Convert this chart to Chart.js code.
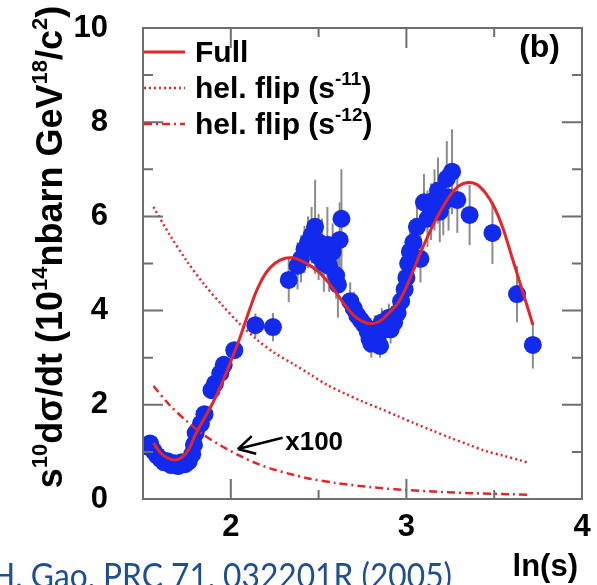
<!DOCTYPE html>
<html>
<head>
<meta charset="utf-8">
<script src="https://cdn.jsdelivr.net/npm/chart.js@4.4.1/dist/chart.umd.min.js"></script>
<style>
  html, body { margin: 0; padding: 0; background: #fff; }
  #wrap { position: relative; width: 597px; height: 585px; overflow: hidden; }
</style>
</head>
<body>
<div id="wrap"><canvas id="xsecChart" width="597" height="585"></canvas></div>
<script>
"use strict"

// full calculation
const fullX = [1.56, 1.60, 1.64, 1.68, 1.72, 1.76, 1.80, 1.85, 1.90, 1.95, 2.00, 2.05, 2.10, 2.15, 2.20,
  2.25, 2.30, 2.35, 2.40, 2.45, 2.50, 2.55, 2.60, 2.65, 2.70, 2.75, 2.80, 2.85, 2.90, 2.95, 3.00,
  3.05, 3.10, 3.15, 3.20, 3.25, 3.30, 3.35, 3.40, 3.45, 3.50, 3.55, 3.60, 3.65, 3.70, 3.72];
const fullY = [1.19, 0.98, 0.87, 0.83, 0.88, 1.05, 1.38, 1.72, 2.06, 2.46, 2.92, 3.40, 3.95, 4.45, 4.80,
  5.00, 5.10, 5.12, 5.06, 4.96, 4.82, 4.62, 4.38, 4.12, 3.90, 3.77, 3.72, 3.78, 3.95, 4.15, 4.50,
  4.95, 5.40, 5.80, 6.15, 6.45, 6.65, 6.72, 6.68, 6.50, 6.20, 5.75, 5.15, 4.55, 3.95, 3.70];

// helicity flip, s^-11
const flip11X = [1.56, 1.65, 1.75, 1.85, 1.95, 2.05, 2.15, 2.25, 2.35, 2.45, 2.55, 2.65, 2.75,
  2.85, 2.95, 3.05, 3.15, 3.25, 3.35, 3.45, 3.55, 3.65, 3.70];
const flip11Y = [6.20, 5.62, 5.05, 4.55, 4.12, 3.72, 3.38, 3.10, 2.88, 2.65, 2.42, 2.24, 2.07,
  1.92, 1.76, 1.60, 1.45, 1.30, 1.16, 1.02, 0.92, 0.82, 0.76];

// helicity flip, s^-12 (x100)
const flip12X = [1.56, 1.65, 1.75, 1.85, 1.95, 2.05, 2.15, 2.25, 2.35, 2.45, 2.60, 2.80, 3.00,
  3.20, 3.40, 3.60, 3.70];
const flip12Y = [2.40, 2.00, 1.65, 1.35, 1.12, 0.92, 0.75, 0.62, 0.52, 0.43, 0.34, 0.25, 0.19,
  0.15, 0.12, 0.10, 0.09];

// measured points
const dataX = [1.52, 1.54, 1.56, 1.58, 1.60, 1.62, 1.64, 1.66, 1.68, 1.70, 1.72, 1.74, 1.76, 1.78,
  1.79, 1.80, 1.83, 1.85, 1.89, 1.91, 1.94, 1.96, 2.02,
  2.14, 2.24, 2.33, 2.38, 2.40, 2.42, 2.44, 2.46, 2.48, 2.50, 2.50, 2.52, 2.53, 2.55, 2.56, 2.58,
  2.60, 2.61, 2.62, 2.63,
  2.68, 2.70, 2.72, 2.74, 2.76, 2.78, 2.79, 2.80, 2.82, 2.84, 2.85, 2.86, 2.88, 2.90, 2.91, 2.93,
  2.95, 2.97, 2.99, 3.00, 3.01, 3.02, 3.04, 3.06, 3.08, 3.10, 3.12, 3.14, 3.16, 3.18, 3.19, 3.21,
  3.23, 3.24, 3.26, 3.29, 3.36, 3.49, 3.63, 3.72];
const dataY = [1.12, 1.18, 1.02, 0.92, 0.85, 0.78, 0.80, 0.72, 0.76, 0.70, 0.78, 0.74, 0.80, 0.95,
  1.15, 1.40, 1.60, 1.80, 2.31, 2.45, 2.67, 2.85, 3.16,
  3.69, 3.65, 4.65, 4.95, 5.10, 5.30, 5.45, 5.60, 5.78, 5.45, 5.15, 5.35, 5.00, 5.40, 4.95, 5.25,
  4.75, 4.55, 5.50, 5.95,
  4.20, 4.05, 3.90, 3.80, 3.70, 3.55, 3.40, 3.30, 3.60, 3.50, 3.25, 3.75, 3.60, 3.85, 3.60, 3.75,
  3.95, 4.20, 4.45, 4.70, 5.00, 5.25, 5.45, 5.78, 5.10, 6.30, 5.95, 6.10, 6.35, 6.55, 6.10, 6.30,
  6.80, 6.40, 6.95, 6.35, 6.03, 5.65, 4.35, 3.27];
const dataErr = [0.05, 0.05, 0.05, 0.05, 0.05, 0.05, 0.05, 0.05, 0.05, 0.05, 0.05, 0.05, 0.06, 0.06,
  0.06, 0.07, 0.08, 0.08, 0.10, 0.10, 0.10, 0.10, 0.12,
  0.25, 0.30, 0.47, 0.50, 0.50, 0.50, 0.55, 0.60, 1.00, 0.60, 0.50, 0.60, 0.60, 0.80, 0.55, 0.60,
  0.50, 0.70, 0.80, 1.05,
  0.40, 0.35, 0.30, 0.30, 0.30, 0.30, 0.30, 0.30, 0.30, 0.30, 0.25, 0.30, 0.30, 0.30, 0.30, 0.30,
  0.30, 0.30, 0.35, 0.40, 0.40, 0.45, 0.50, 0.50, 0.50, 0.60, 0.60, 0.60, 0.65, 0.70, 0.65, 0.70,
  0.80, 0.70, 0.90, 0.70, 0.64, 0.66, 0.60, 0.50];

const xTickLabels = [2, 3, 4];
const yTickLabels = [0, 2, 4, 6, 8, 10];

const RED = '#e2262a';
const BLUE = '#1229ee';
const FONT = '"Liberation Sans", Arial, Helvetica, sans-serif';

function pairs(xs, ys) {
  return xs.map((x, i) => ({x: x, y: ys[i]}));
}

// text with superscript pieces, drawn left to right from (x, y)
function richWidth(ctx, parts, size) {
  let w = 0;
  parts.forEach(p => {
    ctx.font = 'bold ' + (p[1] ? Math.round(size * 0.62) : size) + 'px ' + FONT;
    w += ctx.measureText(p[0]).width;
  });
  return w;
}
function drawRich(ctx, parts, x, y, size) {
  parts.forEach(p => {
    let s = p[1] ? Math.round(size * 0.62) : size;
    ctx.font = 'bold ' + s + 'px ' + FONT;
    ctx.fillText(p[0], x, p[1] ? y - size * 0.42 : y);
    x += ctx.measureText(p[0]).width;
  });
}

const errorBars = {
  id: 'errorBars',
  beforeDatasetsDraw(chart) {
    const ctx = chart.ctx, xs = chart.scales.x, ys = chart.scales.y, a = chart.chartArea;
    ctx.save();
    ctx.beginPath();
    ctx.rect(a.left, a.top, a.right - a.left, a.bottom - a.top);
    ctx.clip();
    ctx.strokeStyle = '#8c8c8c';
    ctx.lineWidth = 2;
    dataX.forEach((x, i) => {
      let px = xs.getPixelForValue(x);
      ctx.beginPath();
      ctx.moveTo(px, ys.getPixelForValue(dataY[i] + dataErr[i]));
      ctx.lineTo(px, ys.getPixelForValue(dataY[i] - dataErr[i]));
      ctx.stroke();
    });
    ctx.restore();
  }
};

// box, inward ticks, legend and labels
const decorations = {
  id: 'decorations',
  afterDraw(chart) {
    const ctx = chart.ctx, xs = chart.scales.x, ys = chart.scales.y, a = chart.chartArea;
    ctx.save();
    ctx.strokeStyle = '#6e6e6e';
    ctx.lineWidth = 2;
    ctx.strokeRect(a.left, a.top, a.right - a.left, a.bottom - a.top);

    ctx.beginPath();
    xs.ticks.forEach(t => {
      let px = xs.getPixelForValue(t.value);
      let len = Number.isInteger(t.value) ? 20 : 9;
      ctx.moveTo(px, a.bottom); ctx.lineTo(px, a.bottom - len);
      ctx.moveTo(px, a.top); ctx.lineTo(px, a.top + len);
    });
    ys.ticks.forEach(t => {
      let py = ys.getPixelForValue(t.value);
      let len = t.value % 2 === 0 ? 20 : 10;
      ctx.moveTo(a.left, py); ctx.lineTo(a.left + len, py);
      ctx.moveTo(a.right, py); ctx.lineTo(a.right - len, py);
    });
    ctx.stroke();

    // legend
    const rows = [
      {dash: [], parts: [['Full', '']]},
      {dash: [2, 3], parts: [['hel. flip (s', ''], ['-11', 's'], [')', '']]},
      {dash: [8, 4, 2, 4], parts: [['hel. flip (s', ''], ['-12', 's'], [')', '']]}
    ];
    ctx.textBaseline = 'alphabetic';
    ctx.fillStyle = '#000';
    rows.forEach((r, i) => {
      let y = a.top + 24 + i * 36;
      ctx.strokeStyle = RED;
      ctx.lineWidth = i === 0 ? 3 : 2.5;
      ctx.setLineDash(r.dash);
      ctx.beginPath();
      ctx.moveTo(a.left + 1, y); ctx.lineTo(a.left + 42, y);
      ctx.stroke();
      ctx.setLineDash([]);
      drawRich(ctx, r.parts, a.left + 52, y + 10, 30);
    });

    // panel tag
    ctx.font = 'bold 32px ' + FONT;
    ctx.textAlign = 'right';
    ctx.fillText('(b)', a.right - 22, a.top + 29);

    // x100 note with arrow
    let tipX = xs.getPixelForValue(2.04), tipY = ys.getPixelForValue(1.06);
    let tailX = xs.getPixelForValue(2.295), tailY = ys.getPixelForValue(1.30);
    ctx.strokeStyle = '#000';
    ctx.lineWidth = 2.5;
    ctx.beginPath();
    ctx.moveTo(tailX, tailY); ctx.lineTo(tipX, tipY);
    let ang = Math.atan2(tailY - tipY, tailX - tipX);
    [0.5, -0.5].forEach(d => {
      ctx.moveTo(tipX, tipY);
      ctx.lineTo(tipX + 19 * Math.cos(ang + d), tipY + 19 * Math.sin(ang + d));
    });
    ctx.stroke();
    ctx.textAlign = 'left';
    ctx.font = 'bold 26px ' + FONT;
    ctx.fillText('x100', xs.getPixelForValue(2.31), ys.getPixelForValue(1.04));

    // axis titles
    ctx.font = 'bold 31px ' + FONT;
    ctx.textAlign = 'right';
    ctx.fillText('ln(s)', a.right - 4, 576);

    const yTitle = [['s', ''], ['10', 's'], ['d\u03c3/dt (10', ''], ['14', 's'], ['nbarn GeV', ''],
      ['18', 's'], ['/c', ''], ['2', 's'], [')', '']];
    ctx.textAlign = 'left';
    let w = richWidth(ctx, yTitle, 36);
    ctx.translate(62, 247);
    ctx.rotate(-Math.PI / 2);
    drawRich(ctx, yTitle, -w / 2, 0, 36);
    ctx.restore();

    // reference line, narrow face
    ctx.save();
    ctx.fillStyle = '#1f4f8f';
    ctx.font = '35px Lato, "Open Sans", sans-serif';
    const ref = 'H. Gao, PRC 71, 032201R (2005)';
    let rw = ctx.measureText(ref).width;
    ctx.translate(-9, 588);
    ctx.scale(461 / rw, 1);
    ctx.fillText(ref, 0, 0);
    ctx.restore();
  }
};

Chart.defaults.font.family = FONT;

new Chart(document.getElementById('xsecChart'), {
  type: 'scatter',
  data: {
    datasets: [
      {label: 'Full', type: 'line', data: pairs(fullX, fullY), borderColor: RED, borderWidth: 3,
        pointRadius: 0, fill: false, tension: 0.3, order: 0},
      {label: 'hel. flip (s-11)', type: 'line', data: pairs(flip11X, flip11Y), borderColor: RED,
        borderWidth: 2.5, borderDash: [2, 3], pointRadius: 0, fill: false, tension: 0.3, order: 1},
      {label: 'hel. flip (s-12)', type: 'line', data: pairs(flip12X, flip12Y), borderColor: RED,
        borderWidth: 2.5, borderDash: [8, 4, 2, 4], pointRadius: 0, fill: false, tension: 0.3, order: 2},
      {label: 'data', data: pairs(dataX, dataY), backgroundColor: BLUE, borderWidth: 0,
        pointRadius: 9, order: 3}
    ]
  },
  options: {
    responsive: false,
    devicePixelRatio: 1,
    animation: false,
    layout: {padding: {top: 28, right: 15, left: 0, bottom: 0}},
    plugins: {legend: {display: false}, tooltip: {enabled: false}},
    scales: {
      x: {
        type: 'linear', min: 1.5, max: 4,
        grid: {display: false, drawTicks: false},
        border: {display: false},
        ticks: {
          stepSize: 0.5, padding: 10, color: '#000', maxRotation: 0, autoSkip: false,
          font: {size: 31, weight: 'bold'},
          callback: v => xTickLabels.includes(v) ? String(v) : ''
        },
        afterFit: s => { s.height = 86; s.paddingLeft = 0; s.paddingRight = 0; }
      },
      y: {
        min: 0, max: 10,
        grid: {display: false, drawTicks: false},
        border: {display: false},
        ticks: {
          stepSize: 1, padding: 35, color: '#000', autoSkip: false,
          font: {size: 31, weight: 'bold'},
          callback: v => yTickLabels.includes(v) ? String(v) : ''
        },
        afterFit: s => { s.width = 143; s.paddingTop = 0; s.paddingBottom = 0; }
      }
    }
  },
  plugins: [errorBars, decorations]
});
</script>
</body>
</html>
